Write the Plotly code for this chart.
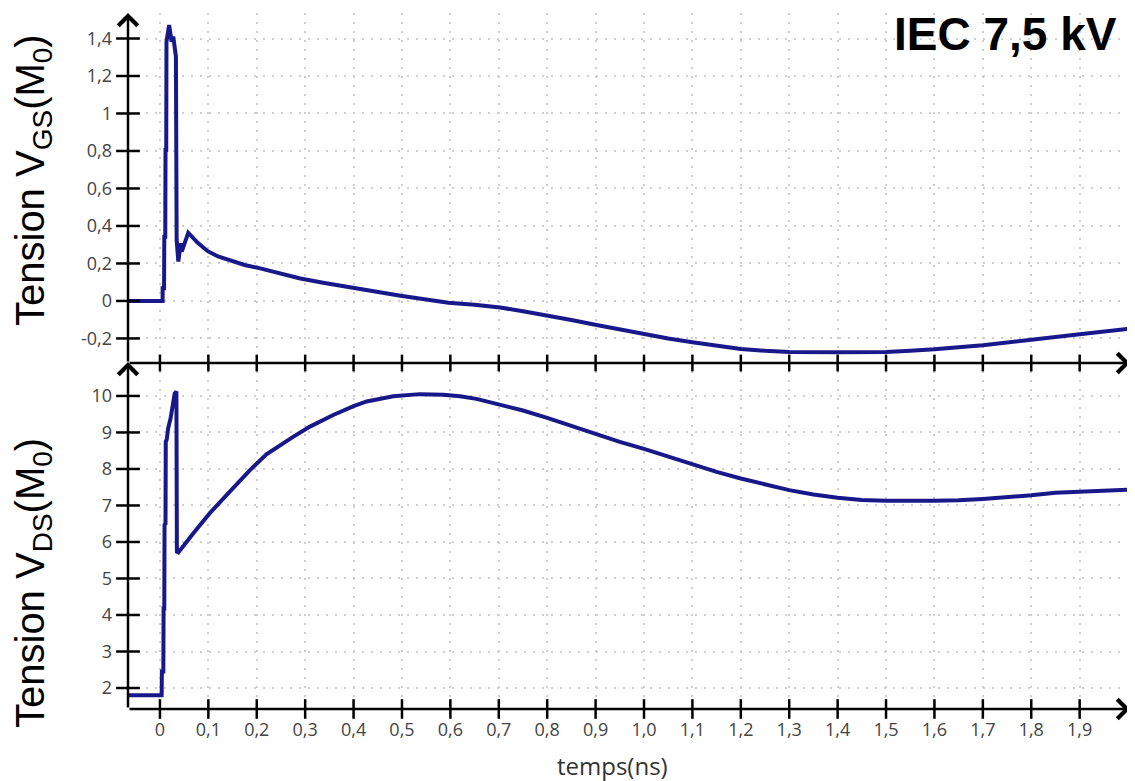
import plotly.graph_objects as go

# ---------------- data ----------------
t_gs = [-0.066, 0.0055, 0.0056, 0.0085, 0.009, 0.011, 0.0115, 0.013, 0.0135, 0.019,
        0.024, 0.0275, 0.033, 0.0345, 0.038, 0.043, 0.045, 0.0585, 0.077, 0.098,
        0.12, 0.148, 0.175, 0.205, 0.25, 0.29, 0.34, 0.397, 0.45, 0.497, 0.55, 0.596,
        0.65, 0.703, 0.75, 0.803, 0.85, 0.902, 0.95, 1.002, 1.05,
        1.10, 1.15, 1.20, 1.25, 1.30, 1.40, 1.50, 1.55, 1.60, 1.70, 1.80, 1.90, 2.0]
v_gs = [0.0, 0.0, 0.068, 0.068, 0.343, 0.343, 0.805, 0.805, 1.383, 1.472,
        1.383, 1.41, 1.303, 0.325, 0.21, 0.308, 0.263, 0.364, 0.313, 0.267,
        0.237, 0.212, 0.192, 0.175, 0.146, 0.12, 0.096, 0.07, 0.048, 0.028, 0.008, -0.009,
        -0.02, -0.035, -0.055, -0.078, -0.102, -0.128, -0.153, -0.178, -0.2,
        -0.22, -0.24, -0.256, -0.266, -0.272, -0.273, -0.272, -0.266, -0.258, -0.236, -0.209, -0.178, -0.149]

t_ds = [-0.066, 0.0035, 0.004, 0.007, 0.0075, 0.009, 0.0095, 0.0115, 0.012, 0.014,
        0.017, 0.022, 0.0305, 0.034, 0.035, 0.038, 0.069, 0.103, 0.138, 0.186,
        0.220, 0.25, 0.275, 0.310, 0.358, 0.40, 0.427, 0.482, 0.537, 0.585, 0.62,
        0.654, 0.70, 0.75, 0.80, 0.85, 0.90, 0.95, 1.00, 1.05, 1.10, 1.15, 1.20,
        1.25, 1.30, 1.35, 1.40, 1.45, 1.50, 1.60, 1.65, 1.70, 1.75, 1.80, 1.85,
        1.90, 1.95, 2.0]
v_ds = [1.8, 1.8, 2.45, 2.45, 4.18, 4.18, 6.47, 6.5, 8.75, 8.8,
        9.12, 9.39, 10.07, 10.12, 5.73, 5.71, 6.24, 6.79, 7.29, 7.97,
        8.40, 8.68, 8.88, 9.16, 9.48, 9.72, 9.85, 9.99, 10.05, 10.03, 9.99,
        9.92, 9.78, 9.6, 9.40, 9.18, 8.95, 8.74, 8.55, 8.34, 8.12, 7.92, 7.74,
        7.57, 7.42, 7.30, 7.21, 7.15, 7.13, 7.13, 7.14, 7.18, 7.22, 7.28, 7.35,
        7.38, 7.41, 7.43]

x_tickvals = [0, 0.1, 0.2, 0.3, 0.4, 0.5, 0.6, 0.7, 0.8, 0.9,
              1.0, 1.1, 1.2, 1.3, 1.4, 1.5, 1.6, 1.7, 1.8, 1.9]
x_ticktext = ["0", "0,1", "0,2", "0,3", "0,4", "0,5", "0,6", "0,7", "0,8", "0,9",
              "1,0", "1,1", "1,2", "1,3", "1,4", "1,5", "1,6", "1,7", "1,8", "1,9"]
gs_tickvals = [-0.2, 0, 0.2, 0.4, 0.6, 0.8, 1.0, 1.2, 1.4]
gs_ticktext = ["-0,2", "0", "0,2", "0,4", "0,6", "0,8", "1", "1,2", "1,4"]
ds_tickvals = [2, 3, 4, 5, 6, 7, 8, 9, 10]
ds_ticktext = ["2", "3", "4", "5", "6", "7", "8", "9", "10"]

title_text = "<b>IEC 7,5 kV</b>"
gs_label = "Tension V<sub>GS</sub>(M<sub>0</sub>)"
ds_label = "Tension V<sub>DS</sub>(M<sub>0</sub>)"
x_label = "temps(ns)"

X_RANGE = [-0.066, 2.004]
GS_RANGE = [-0.331, 1.536]
DS_RANGE = [1.425, 10.93]

# ---------------- style ----------------
OFF = 8                      # page body margin of the html page
W, H = 1135 - OFF, 781 - OFF

def px_x(p):
    return (p - OFF) / W

def px_y(p):
    return 1 - (p - OFF) / H

LINE_COLOR = "#18188a"
AX_W = 2.5
TICK_FONT = dict(family="Open Sans", size=18, color="#444444")
GRID = dict(showgrid=True, gridcolor="#cfcfcf", griddash="2px,7px", gridwidth=1.5)

fig = go.Figure()

fig.add_trace(go.Scatter(x=t_ds, y=v_ds, mode="lines", xaxis="x", yaxis="y",
                         line=dict(color=LINE_COLOR, width=4), hoverinfo="skip"))
fig.add_trace(go.Scatter(x=t_gs, y=v_gs, mode="lines", xaxis="x2", yaxis="y2",
                         line=dict(color=LINE_COLOR, width=4), hoverinfo="skip"))

# tick crosses drawn as markers on the axes
def tick_marks(xs, ys, xa, ya, symbol, size):
    fig.add_trace(go.Scatter(x=xs, y=ys, mode="markers", xaxis=xa, yaxis=ya,
                             marker=dict(symbol=symbol, size=size,
                                         line=dict(color="black", width=2.5)),
                             cliponaxis=False, hoverinfo="skip"))

tick_marks(x_tickvals, [DS_RANGE[0]] * len(x_tickvals), "x", "y", "line-ns", 14)
tick_marks([X_RANGE[0]] * len(ds_tickvals), ds_tickvals, "x", "y", "line-ew", 17)
tick_marks(x_tickvals, [GS_RANGE[0]] * len(x_tickvals), "x2", "y2", "line-ns", 12)
tick_marks([X_RANGE[0]] * len(gs_tickvals), gs_tickvals, "x2", "y2", "line-ew", 17)

xdom = [px_x(128), px_x(1130)]
fig.update_layout(
    width=W, height=H,
    margin=dict(l=0, r=0, t=0, b=0),
    paper_bgcolor="white", plot_bgcolor="white",
    showlegend=False,
    xaxis=dict(domain=xdom, anchor="y", range=X_RANGE, tickvals=x_tickvals,
               ticktext=x_ticktext, ticks="", showline=False, zeroline=False,
               tickfont=TICK_FONT, ticklabelstandoff=8, automargin=False, **GRID),
    yaxis=dict(domain=[px_y(709), px_y(362)], anchor="x", range=DS_RANGE,
               tickvals=ds_tickvals, ticktext=ds_ticktext, ticks="", showline=False,
               zeroline=False, tickfont=TICK_FONT, ticklabelstandoff=15,
               automargin=False, **GRID),
    xaxis2=dict(domain=xdom, anchor="y2", range=X_RANGE, tickvals=x_tickvals,
                showticklabels=False, ticks="", showline=False, zeroline=False,
                automargin=False, **GRID),
    yaxis2=dict(domain=[px_y(363), px_y(13)], anchor="x2", range=GS_RANGE,
                tickvals=gs_tickvals, ticktext=gs_ticktext, ticks="", showline=False,
                zeroline=False, tickfont=TICK_FONT, ticklabelstandoff=15,
                automargin=False, **GRID),
)

# axis lines with arrow heads
def axis_arrow(xa, ya, x0, y0, x1, y1):
    fig.add_annotation(xref=xa, yref=ya, axref=xa, ayref=ya, x=x1, y=y1, ax=x0, ay=y0,
                       text="", showarrow=True, arrowhead=4, arrowsize=1.5,
                       arrowwidth=AX_W, arrowcolor="black", standoff=0, startstandoff=0)

axis_arrow("x", "y", X_RANGE[0], DS_RANGE[0], X_RANGE[1], DS_RANGE[0])
axis_arrow("x", "y", X_RANGE[0], DS_RANGE[0], X_RANGE[0], DS_RANGE[1])
axis_arrow("x2", "y2", X_RANGE[0], GS_RANGE[0], X_RANGE[1], GS_RANGE[0])
axis_arrow("x2", "y2", X_RANGE[0], GS_RANGE[0], X_RANGE[0], GS_RANGE[1])

# texts
fig.add_annotation(xref="paper", yref="paper", x=px_x(33), y=px_y(180), text=gs_label,
                   textangle=-90, showarrow=False, xanchor="center", yanchor="middle",
                   font=dict(family="Liberation Sans, Arial", size=40, color="black"))
fig.add_annotation(xref="paper", yref="paper", x=px_x(33), y=px_y(583), text=ds_label,
                   textangle=-90, showarrow=False, xanchor="center", yanchor="middle",
                   font=dict(family="Liberation Sans, Arial", size=40, color="black"))
fig.add_annotation(xref="paper", yref="paper", x=px_x(612), y=px_y(765), text=x_label,
                   showarrow=False, xanchor="center", yanchor="middle",
                   font=dict(family="Open Sans", size=24, color="#333333"))
fig.add_annotation(xref="paper", yref="paper", x=px_x(1005), y=px_y(34), text=title_text,
                   showarrow=False, xanchor="center", yanchor="middle",
                   font=dict(family="Liberation Sans, Arial", size=46, color="black"))

fig.write_html("out.html")
